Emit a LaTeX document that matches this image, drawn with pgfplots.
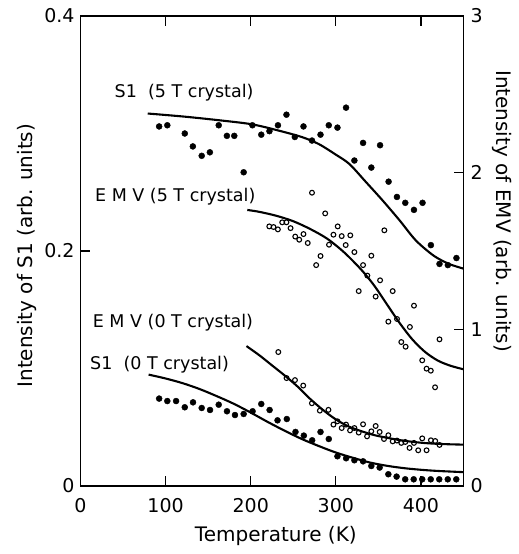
\documentclass[border=0pt]{standalone}
\usepackage{pgfplots}
\pgfplotsset{compat=1.18}
\usepackage{fontspec}
\setmainfont{DejaVu Sans}
\newcommand{\tk}{\fontsize{19bp}{22bp}\selectfont}
\newcommand{\lb}{\fontsize{20bp}{24bp}\selectfont}
\newcommand{\an}{\fontsize{17.5bp}{21bp}\selectfont}
\begin{document}
\begin{tikzpicture}
\useasboundingbox (-80.5bp,-68bp) rectangle (438.5bp,486bp);
\begin{axis}[
  scale only axis, width=383bp, height=470bp,
  xmin=0, xmax=450, ymin=0, ymax=0.4,
  xtick={0,100,200,300,400}, ytick={0,0.2,0.4},
  xtick pos=both, xticklabel pos=bottom, ytick pos=left,
  tick align=inside, major tick length=10bp,
  axis line style={line width=1.2bp}, every tick/.style={line width=1.2bp, black},
  /pgf/number format/assume math mode=true,
  yticklabel style={/pgf/number format/fixed, /pgf/number format/precision=1, font=\tk, xshift=-2.5bp},
  xticklabel style={font=\tk, yshift=-9bp},
  xlabel={Temperature (K)}, ylabel={Intensity of S1 (arb. units)},
  xlabel style={font=\lb, at={(axis description cs:0.51,-0.107)}, anchor=center},
  ylabel style={font=\lb, at={(axis description cs:-0.14,0.49)}, anchor=center},
  clip=false,
]
% S1 (5 T) data
\addplot[only marks, mark=*, mark size=3bp, black] coordinates {
(92.4,0.306)(102,0.307)(122.5,0.300)(132,0.289)(142.4,0.281)(152,0.284)(162.4,0.307)(172,0.298)(180.7,0.298)(191.7,0.267)
(202,0.307)(212.4,0.299)(222,0.302)(232,0.307)(242,0.316)(251.8,0.297)(262,0.306)(272,0.294)(282,0.299)(291.7,0.307)
(301.9,0.305)(312,0.322)(321.8,0.277)(332,0.292)(341.7,0.271)(352,0.290)(362,0.259)(371.8,0.246)(381.6,0.241)(391.8,0.235)
(401.9,0.241)(411.7,0.205)(421.8,0.189)(431.6,0.188)(441.7,0.194)};
% S1 (5 T) fit
\addplot[line width=2.1bp, smooth, black] coordinates {
(79,0.317)(120,0.3145)(160,0.3115)(200,0.308)(230,0.303)(260,0.297)(280,0.291)(300,0.282)(316,0.274)(335,0.259)(355,0.243)(375,0.226)(394,0.209)(415,0.196)(433,0.189)(450,0.185)};
% S1 (0 T) data
\addplot[only marks, mark=*, mark size=3bp, black] coordinates {
(92.4,0.0744)(102,0.0723)(112.3,0.0723)(122.5,0.0670)(132.2,0.0712)(142.4,0.0664)(152.2,0.0647)(162.4,0.0692)(172.1,0.0636)(181.5,0.0604)
(191.7,0.0613)(202.2,0.0636)(212.4,0.0698)(222.2,0.0647)(231.5,0.0559)(242.4,0.0570)(252.6,0.0460)(262.4,0.0429)(272.2,0.0389)(282,0.0460)
(291.7,0.0400)(301.9,0.0253)(312.1,0.0236)(321.8,0.0219)(332,0.0210)(341.7,0.0170)(351.5,0.0157)(361.7,0.0100)(371.4,0.0080)(381.5,0.0057)
(391.5,0.0057)(401.5,0.0057)(411.5,0.0057)(421.5,0.0057)(431.5,0.0057)(441.5,0.0057)};
% S1 (0 T) fit
\addplot[line width=2.1bp, smooth, black] coordinates {
(80,0.0948)(100,0.0915)(120,0.0875)(140,0.0825)(160,0.0765)(180,0.0700)(200,0.0625)(220,0.0545)(240,0.0470)(260,0.0400)(280,0.0340)(300,0.0285)(320,0.0240)(340,0.0200)(360,0.0172)(380,0.0152)(400,0.0138)(420,0.0128)(450,0.0118)};
\node[font=\an, anchor=west, inner sep=0pt] at (axis cs:40,0.3345) {S1\ \ (5 T crystal)};
\node[font=\an, anchor=west, inner sep=0pt] at (axis cs:17,0.246) {E M V (5 T crystal)};
\node[font=\an, anchor=west, inner sep=0pt] at (axis cs:14.3,0.1387) {E M V (0 T crystal)};
\node[font=\an, anchor=west, inner sep=0pt] at (axis cs:11.2,0.103) {S1\ \ (0 T crystal)};
\end{axis}
\begin{axis}[
  scale only axis, width=383bp, height=470bp,
  xmin=0, xmax=450, ymin=0, ymax=3,
  axis x line=none, axis y line*=right,
  ytick={0,1,2,3},
  tick align=inside, major tick length=10bp,
  axis line style={line width=1.2bp}, every tick/.style={line width=1.2bp, black},
  /pgf/number format/assume math mode=true,
  yticklabel style={font=\tk, xshift=3.5bp},
  ylabel={Intensity of EMV (arb. units)},
  ylabel style={font=\lb, rotate=180, at={(axis description cs:1.1,0.585)}, anchor=center},
  clip=false,
]
% EMV (5 T) data
\addplot[only marks, mark=o, mark size=2.4bp, line width=1.1bp, black] coordinates {
(221.8,1.657)(226.8,1.653)(231.9,1.638)(237,1.683)(242,1.683)(246.8,1.646)(252.3,1.592)(257,1.572)(262,1.608)(267,1.551)
(272,1.872)(276.9,1.410)(282,1.468)(287.5,1.740)(292,1.540)(297.2,1.604)(302.2,1.657)(306.9,1.595)(311.6,1.538)(317,1.600)
(321.8,1.493)(326.9,1.244)(332,1.410)(337,1.343)(341.7,1.470)(346.8,1.209)(352,1.313)(357,1.632)(361.7,1.049)(366.8,1.244)
(371.9,1.066)(376.9,0.919)(382,0.889)(387,1.015)(391.8,1.151)(401.5,0.802)(406.6,0.749)(411.6,0.736)(416.6,0.630)(421.8,0.936)};
% EMV (5 T) fit
\addplot[line width=2.1bp, smooth, black] coordinates {
(196,1.762)(210,1.750)(230,1.725)(250,1.690)(270,1.640)(290,1.578)(310,1.490)(330,1.380)(345,1.280)(360,1.160)(375,1.040)(390,0.935)(405,0.855)(420,0.800)(435,0.767)(450,0.745)};
% EMV (0 T) data
\addplot[only marks, mark=o, mark size=2.4bp, line width=1.1bp, black] coordinates {
(232.4,0.855)(242.1,0.689)(252,0.676)(261.7,0.641)(271.9,0.528)(281.2,0.481)(291.3,0.486)(297.2,0.392)(301.9,0.413)(306.9,0.370)
(312,0.392)(316.7,0.355)(321.8,0.370)(326.9,0.341)(332,0.394)(336.7,0.317)(341.7,0.349)(346.8,0.383)(351.5,0.345)(356.6,0.300)
(361.7,0.324)(366.8,0.285)(371.8,0.290)(376.9,0.275)(381.6,0.281)(386.6,0.243)(391.8,0.275)(396.8,0.228)(401.5,0.304)(406.6,0.228)
(411.7,0.292)(416.8,0.287)(421.8,0.262)};
% EMV (0 T) fit
\addplot[line width=2.1bp, smooth, black] coordinates {
(195,0.893)(210,0.835)(225,0.770)(240,0.705)(255,0.635)(270,0.555)(285,0.485)(300,0.425)(315,0.380)(330,0.350)(345,0.325)(360,0.308)(375,0.293)(390,0.282)(405,0.274)(420,0.269)(435,0.266)(450,0.264)};
\end{axis}
\end{tikzpicture}
\end{document}
